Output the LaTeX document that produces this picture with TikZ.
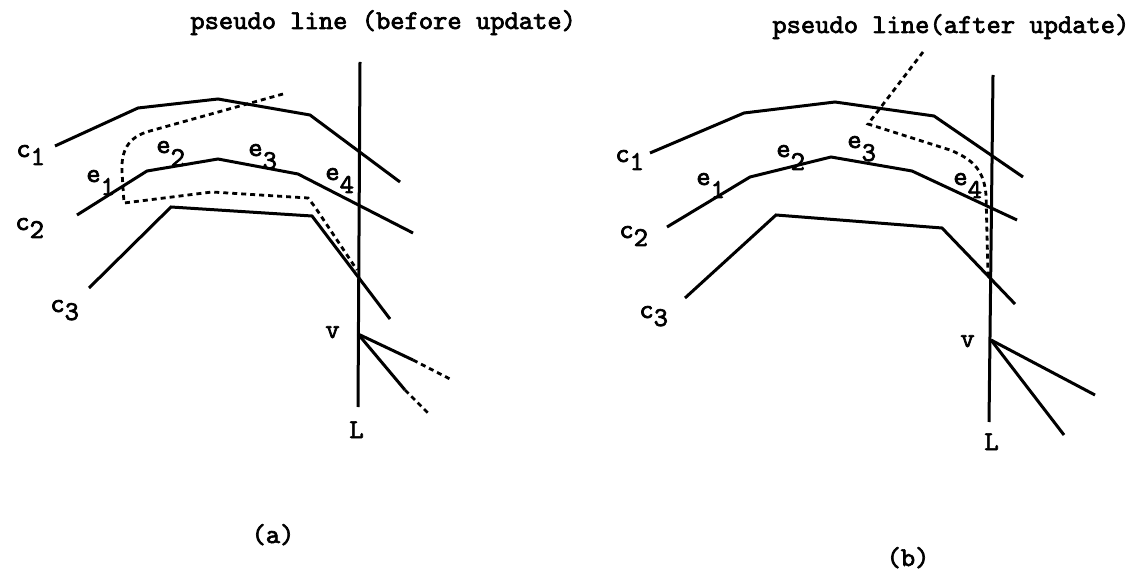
\documentclass[tikz,border=0pt]{standalone}
\usepackage{fontspec}
\newfontfamily\labfont[FakeBold=2.5]{lmmono10-regular.otf}
\tikzset{
  chain/.style={line width=1.5pt, line join=miter},
  pseudo/.style={line width=1.4pt, dash pattern=on 2.5pt off 2pt},
  lab/.style={font=\labfont\fontsize{13.6}{15}\selectfont, inner sep=0pt, anchor=base west}
}
\newcommand{\sub}[3][4pt]{#2\raisebox{-#1}{#3}}

\begin{document}
\begin{tikzpicture}[x=0.5pt, y=-0.5pt]
  \useasboundingbox (0,0) rectangle (1138,571);

  % (a) pseudo line before update
  \coordinate (La-top) at (360,62);
  \coordinate (La-bot) at (358,407);
  \coordinate (va) at (358,334);
  \coordinate (va1) at (413,360);
  \coordinate (va1e) at (452,380);
  \coordinate (va2) at (405,390);
  \coordinate (va2e) at (428,413);

  \draw[chain] (55,146) -- (138,108) -- (218,99) -- (310,115) -- (400,182);
  \draw[chain] (77,215) -- (147,171) -- (218,159) -- (298,174) -- (413,233);
  \draw[chain] (89,288) -- (171,207) -- (312,216) -- (390,319);
  \draw[chain] (La-top) -- (La-bot);
  \draw[chain] (va) -- (va1);
  \draw[chain] (va) -- (va2);
  \draw[pseudo] (va1) -- (va1e);
  \draw[pseudo] (va2) -- (va2e);
  \draw[pseudo] (283,94) -- (150,131) .. controls (127,137) and (121,152) .. (122,172)
    -- (124,203) -- (212,192) -- (308,198) -- (315,207) -- (357,270);

  \node[lab] (titlea) at (190,29) {pseudo line (before update)};
  \node[lab] (c1a) at (16,157) {\sub{c}{1}};
  \node[lab] (c2a) at (15,230) {\sub{c}{2}};
  \node[lab] (c3a) at (50,312) {\sub{c}{3}};
  \node[lab] (e1a) at (86,182) {\sub[6.5pt]{e}{1}};
  \node[lab] (e2a) at (156,153) {\sub[6.5pt]{e}{2}};
  \node[lab] (e3a) at (248,156) {\sub[6.5pt]{e}{3}};
  \node[lab] (e4a) at (325,180) {\sub[6.5pt]{e}{4}};
  \node[lab] (vlaba) at (325,338) {v};
  \node[lab] (Llaba) at (349,438) {L};
  \node[lab, anchor=base] (capa) at (273,543) {(a)};

  % (b) pseudo line after update
  \coordinate (Lb-top) at (993,75);
  \coordinate (Lb-bot) at (989,422);
  \coordinate (vb) at (991,340);
  \coordinate (vb1) at (1095,395);
  \coordinate (vb2) at (1064,435);

  \draw[chain] (650,153) -- (744,113) -- (835,102) -- (934,116) -- (1023,177);
  \draw[chain] (667,227) -- (750,177) -- (831,157) -- (912,171) -- (1017,220);
  \draw[chain] (685,298) -- (776,215) -- (942,228) -- (1015,304);
  \draw[chain] (Lb-top) -- (Lb-bot);
  \draw[chain] (vb) -- (vb1);
  \draw[chain] (vb) -- (vb2);
  \draw[pseudo] (923,52) -- (868,124) -- (950,150) .. controls (975,160) and (984,172) .. (986,195)
    -- (988,275);

  \node[lab] (titleb) at (772,33) {pseudo line(after update)};
  \node[lab] (c1b) at (615,162) {\sub{c}{1}};
  \node[lab] (c2b) at (619,238) {\sub{c}{2}};
  \node[lab] (c3b) at (639,318) {\sub{c}{3}};
  \node[lab] (e1b) at (696,185) {\sub[6.5pt]{e}{1}};
  \node[lab] (e2b) at (776,157) {\sub[6.5pt]{e}{2}};
  \node[lab] (e3b) at (847,148) {\sub[6.5pt]{e}{3}};
  \node[lab] (e4b) at (953,185) {\sub[6.5pt]{e}{4}};
  \node[lab] (vlabb) at (960,347) {v};
  \node[lab] (Llabb) at (984,450) {L};
  \node[lab, anchor=base] (capb) at (908,566) {(b)};
\end{tikzpicture}
\end{document}
